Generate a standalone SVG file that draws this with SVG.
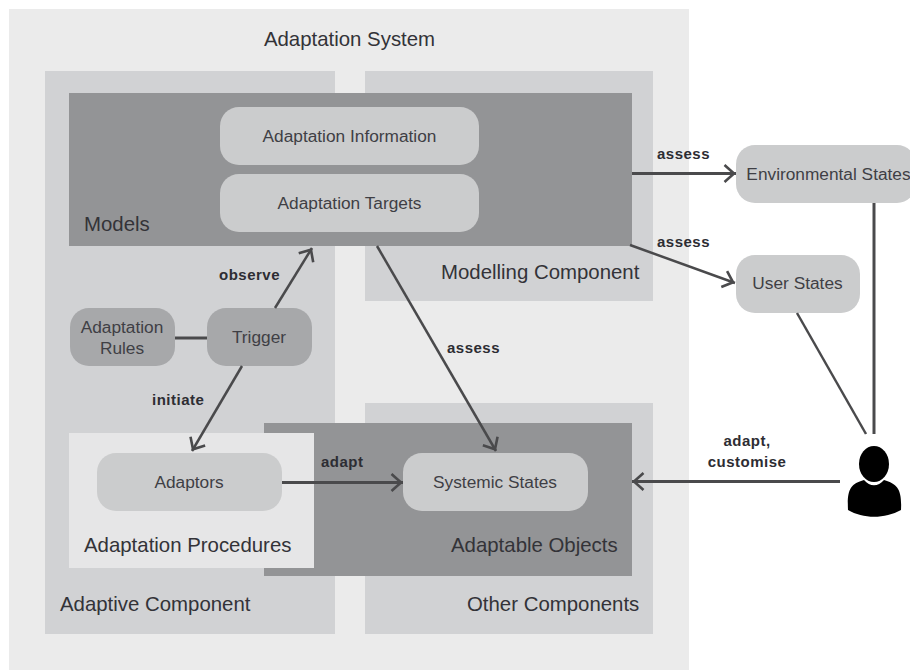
<svg xmlns="http://www.w3.org/2000/svg" width="910" height="670" viewBox="0 0 910 670">
<defs>
<marker id="open" markerUnits="userSpaceOnUse" markerWidth="18" markerHeight="20" refX="16" refY="10" orient="auto"><path d="M4.500 1.500 L14 10 L4.500 18.500" fill="none" stroke="#4a4a4c" stroke-width="2.6"/></marker>
</defs>
<style>
text{fill:#3f3f45;font-family:"Liberation Sans",Arial,sans-serif}
.n{font-size:17.3px;text-anchor:middle}
.t{font-size:20.4px;fill:#333338}
.l{font-size:15px;font-weight:700;fill:#2d2d33;letter-spacing:.5px}
.c{fill:none;stroke:#4a4a4c;stroke-width:3}
.d{fill:none;stroke:#4a4a4c;stroke-width:2.5}
.lite{fill:#cbcccd}.mid{fill:#a7a8aa}
</style>
<rect width="910" height="670" fill="#fff"/>
<g id="adaptation-system"><rect x="9" y="9" width="680" height="661" fill="#ebebeb"/><text class="t" x="349.500" y="45.500" text-anchor="middle">Adaptation System</text></g>
<g id="adaptive-component"><rect x="45" y="71" width="290" height="563" fill="#d1d2d4"/><text class="t" x="60" y="610.500">Adaptive Component</text></g>
<g id="modelling-component"><rect x="365" y="71" width="288" height="230" fill="#d1d2d4"/><text class="t" x="441" y="279">Modelling Component</text></g>
<g id="other-components"><rect x="365" y="403" width="288" height="231" fill="#d1d2d4"/><text class="t" x="467" y="610.500">Other Components</text></g>
<g id="models"><rect x="69" y="93" width="563" height="153" fill="#939496"/><text class="t" x="84" y="230.500">Models</text></g>
<g id="adaptable-objects"><rect x="264" y="423" width="368" height="153" fill="#939496"/><text class="t" x="451" y="551.500">Adaptable Objects</text></g>
<g id="adaptation-procedures"><rect x="69" y="433" width="245" height="135" fill="#e6e6e7"/><text class="t" x="84" y="551.500">Adaptation Procedures</text></g>
<g id="adaptation-information"><rect class="lite" x="220" y="107" width="259" height="58" rx="19"/><text class="n" x="349.500" y="142">Adaptation Information</text></g>
<g id="adaptation-targets"><rect class="lite" x="220" y="174" width="259" height="58" rx="19"/><text class="n" x="349.500" y="209">Adaptation Targets</text></g>
<g id="adaptation-rules"><rect class="mid" x="70" y="308" width="105" height="58" rx="19"/><text class="n" x="122" y="333">Adaptation</text><text class="n" x="122" y="354">Rules</text></g>
<g id="trigger"><rect class="mid" x="207" y="308" width="105" height="58" rx="19"/><text class="n" x="259" y="343">Trigger</text></g>
<g id="adaptors"><rect class="lite" x="97" y="453" width="185" height="58" rx="19"/><text class="n" x="189" y="488">Adaptors</text></g>
<g id="systemic-states"><rect class="lite" x="403" y="453" width="185" height="58" rx="19"/><text class="n" x="495" y="488">Systemic States</text></g>
<g id="environmental-states"><rect class="lite" x="736" y="145" width="180" height="58" rx="19"/><text class="n" x="828.500" y="180">Environmental States</text></g>
<g id="user-states"><rect class="lite" x="736" y="255" width="124" height="58" rx="19"/><text class="n" x="797.500" y="289">User States</text></g>
<g id="user"><ellipse cx="874" cy="464" rx="15" ry="18" fill="#000"/><path d="M848 510 C847 490 850 484 864 480 C870 487 878 487 884 480 C898 484 902 490 901 510 C885 519 863 519 848 510Z" fill="#000"/></g>
<g id="connectors">
<path class="c" d="M632 173.500H736" marker-end="url(#open)"/>
<path class="d" d="M630 245L735 283" marker-end="url(#open)"/>
<path class="d" d="M275 308L312 248" marker-end="url(#open)"/>
<path class="c" d="M175 338H207"/>
<path class="d" d="M242 366L192 451" marker-end="url(#open)"/>
<path class="c" d="M282 482.500H403" marker-end="url(#open)"/>
<path class="d" d="M377 246L496 451" marker-end="url(#open)"/>
<path class="c" d="M840 481.500H632" marker-end="url(#open)"/>
<path class="c" d="M874 203V434"/>
<path class="d" d="M797 313L866 434"/>
</g>
<g id="labels">
<text class="l" x="657" y="159">assess</text><text class="l" x="657" y="247">assess</text><text class="l" x="219" y="280">observe</text><text class="l" x="152" y="405">initiate</text><text class="l" x="447" y="353">assess</text><text class="l" x="321" y="467">adapt</text><text class="l" x="747" y="446" text-anchor="middle">adapt,</text><text class="l" x="747" y="467" text-anchor="middle">customise</text>
</g>
</svg>
